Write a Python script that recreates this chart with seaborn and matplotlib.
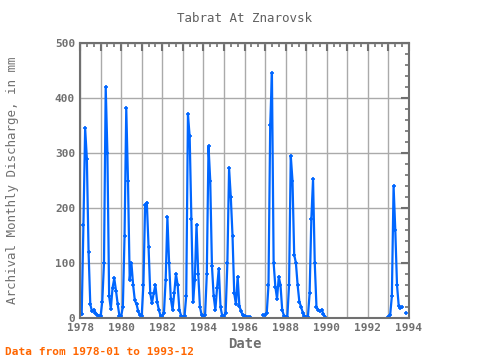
import numpy as np
import pandas as pd
import matplotlib
matplotlib.use("Agg")
import matplotlib.pyplot as plt
import seaborn as sns
from matplotlib.ticker import MultipleLocator

sns.set_style("white")
plt.rcParams["font.family"] = ["DejaVu Sans Mono"]

nan = np.nan
# monthly discharge (mm), Jan..Dec
y1978 = [5, 8, 170, 345, 290, 120, 25, 12, 15, 10, 6, 4]
y1979 = [3, 30, 100, 420, 300, 40, 17, 55, 72, 50, 25, 4]
y1980 = [3, 20, 150, 381, 250, 70, 100, 60, 32, 25, 12, 5]
y1981 = [4, 60, 205, 210, 130, 45, 27, 45, 60, 30, 15, 4]
y1982 = [2, 10, 70, 183, 100, 35, 15, 45, 80, 60, 15, 4]
y1983 = [2, 3, 40, 370, 330, 180, 30, 70, 170, 80, 20, 5]
y1984 = [3, 5, 80, 312, 250, 95, 40, 15, 55, 90, 20, 4]
y1985 = [3, 10, 100, 272, 220, 150, 45, 25, 75, 22, 12, 5]
y1986 = [3, 2, 2, 2, nan, nan, nan, nan, nan, nan, nan, 5]
y1987 = [5, 10, 60, 350, 445, 100, 57, 35, 75, 60, 15, 4]
y1988 = [1, 2, 60, 295, 250, 115, 100, 60, 30, 20, 10, 3]
y1989 = [1, 2, 45, 180, 252, 100, 20, 15, 12, 15, 8, 2]
y1990 = [nan] * 12
y1991 = [nan] * 12
y1992 = [nan] * 12
y1993 = [2, 5, 40, 240, 160, 60, 22, 18, 20, nan, 10, nan]

values = (y1978 + y1979 + y1980 + y1981 + y1982 + y1983 + y1984 + y1985 +
          y1986 + y1987 + y1988 + y1989 + y1990 + y1991 + y1992 + y1993)
dates = pd.date_range("1978-01-01", "1993-12-01", freq="MS")

df = pd.DataFrame({"date": dates, "q": values})
df["t"] = df["date"].dt.year + (df["date"].dt.month - 1) / 12
# split into pieces so gaps stay gaps
df["seg"] = df["q"].isna().cumsum()
df = df.dropna(subset=["q"])

blue = "#0066ff"
fig = plt.figure(figsize=(4.8, 3.6), dpi=100)
ax = fig.add_axes([80 / 480, 1 - 318 / 360, 329 / 480, 275 / 360])

sns.lineplot(data=df, x="t", y="q", units="seg", estimator=None,
             color=blue, lw=1.6, marker="+", markersize=3.5,
             markeredgewidth=1.2, markeredgecolor=blue, ax=ax, legend=False)

gray = "#707070"
ax.set_xlim(1978, 1994)
ax.set_ylim(0, 500)
ax.xaxis.set_major_locator(MultipleLocator(1))
ax.xaxis.set_minor_locator(MultipleLocator(1 / 3))
ax.yaxis.set_major_locator(MultipleLocator(100))
ax.yaxis.set_minor_locator(MultipleLocator(20))
ax.set_xticklabels([str(int(v)) if int(v) % 2 == 0 else "" for v in ax.get_xticks()])
ax.grid(True, which="major", color="#aaaaaa", lw=1)
ax.tick_params(which="both", direction="in", top=True, right=True, color=gray,
               labelcolor=gray, labelsize=8)
ax.tick_params(which="major", length=6, width=1.5)
ax.tick_params(which="minor", length=3, width=1.2)
for lab in ax.get_xticklabels() + ax.get_yticklabels():
    lab.set_fontweight("bold")
for s in ax.spines.values():
    s.set_color(gray)
    s.set_linewidth(1.5)

ax.set_title("Tabrat At Znarovsk", fontsize=9, color="#606060", pad=15)
ax.set_xlabel("Date", fontsize=10, fontweight="bold", color=gray, labelpad=3)
ax.set_ylabel("Archival Monthly Discharge, in mm", fontsize=9, color=gray,
              labelpad=26)
fig.text(5 / 480, 1 - 352 / 360, "Data from 1978-01 to 1993-12", fontsize=8,
         color="#ff6600", fontweight="bold", va="center")

fig.savefig("out.png", dpi=100)
